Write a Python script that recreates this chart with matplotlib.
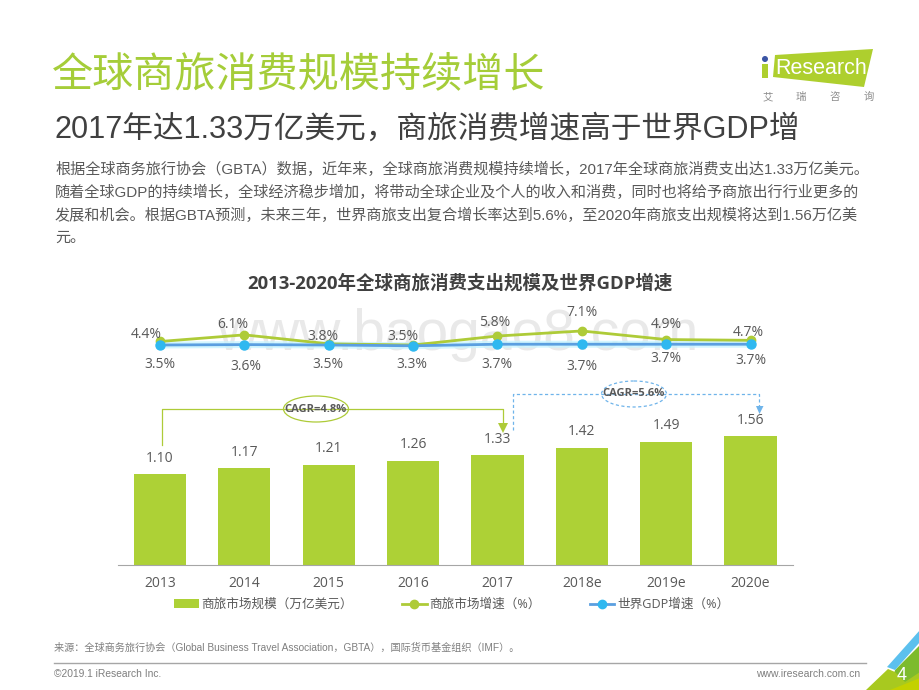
import matplotlib
matplotlib.use('Agg')
import matplotlib.pyplot as plt
from matplotlib.patches import Polygon, Ellipse
from matplotlib.lines import Line2D
from matplotlib.patches import Patch

CJK = 'Noto Sans CJK SC'
CHART_FONT = ['Open Sans', CJK]
ARIAL = ['Liberation Sans', CJK]

years = ['2013', '2014', '2015', '2016', '2017', '2018e', '2019e', '2020e']
market_size = [1.10, 1.17, 1.21, 1.26, 1.33, 1.42, 1.49, 1.56]
market_growth = [4.4, 6.1, 3.8, 3.5, 5.8, 7.1, 4.9, 4.7]
gdp_growth = [3.5, 3.6, 3.5, 3.3, 3.7, 3.7, 3.7, 3.7]
size_name = '商旅市场规模（万亿美元）'
growth_name = '商旅市场增速（%）'
gdp_name = '世界GDP增速（%）'

title = '全球商旅消费规模持续增长'
subtitle = '2017年达1.33万亿美元，商旅消费增速高于世界GDP增'
body = ['根据全球商务旅行协会（GBTA）数据，近年来，全球商旅消费规模持续增长，2017年全球商旅消费支出达1.33万亿美元。',
        '随着全球GDP的持续增长，全球经济稳步增加，将带动全球企业及个人的收入和消费，同时也将给予商旅出行行业更多的',
        '发展和机会。根据GBTA预测，未来三年，世界商旅支出复合增长率达到5.6%，至2020年商旅支出规模将达到1.56万亿美',
        '元。']
chart_title = '2013-2020年全球商旅消费支出规模及世界GDP增速'
source = '来源：全球商务旅行协会（Global Business Travel Association，GBTA），国际货币基金组织（IMF）。'

GREEN = '#add136'
LINE_GREEN = '#aecb38'
BLUE = '#5b9fe0'
DASH_BLUE = '#6fb4ea'
CYAN = '#2fb8f0'
GRAY = '#595959'
W, H = 920, 690

fig = plt.figure(figsize=(9.2, 6.9), dpi=100, facecolor='white')

def axes_px(l, t, r, b, **kw):
    return fig.add_axes([l / W, 1 - b / H, (r - l) / W, (b - t) / H], **kw)

# page layer in pixel coordinates
bg = axes_px(0, 0, W, H)
bg.set_xlim(0, W); bg.set_ylim(H, 0); bg.axis('off')

bg.text(52, 75, title, family=CJK, fontsize=29.6, color='#a5cd39', va='center')
bg.text(55, 130, subtitle, family=ARIAL, fontsize=22.1, color='#404040', va='center')
for y, line in zip([169, 192, 215, 238], body):
    bg.text(55, y, line, family=ARIAL, fontsize=10.9, color='#595959', va='center')
bg.text(460, 283, chart_title, family=CHART_FONT, fontsize=13.3, fontweight='bold', color='#404040', ha='center', va='center')
bg.text(458, 335, 'www.baogao8.com', family='Liberation Sans', fontsize=41, color='#e9e9e9', ha='center', va='center')

# logo
bg.add_patch(Polygon([(775, 55), (873, 49), (864, 87), (773, 77)], fc='#aecf2e', ec='none'))
bg.add_patch(Polygon([(762, 64), (768, 64), (768, 78), (762, 78)], fc='#aecf2e', ec='none'))
bg.add_patch(Ellipse((765, 59), 6, 6, fc='#3b55a5', ec='none'))
bg.text(775, 69, 'Research', family='Liberation Sans', fontsize=15.5, color='white', va='center')
for x, c in zip([768, 801, 835, 869], '艾瑞咨询'):
    bg.text(x, 97, c, family=CJK, fontsize=7.5, color='#8c8c8c', ha='center', va='center')

# footer
bg.plot([54, 866], [663, 663], color='#a6a6a6', lw=1)
bg.text(54, 648, source, family=ARIAL, fontsize=7.3, color='#7f7f7f', va='center')
bg.text(54, 674, '©2019.1 iResearch Inc.', family='Liberation Sans', fontsize=7.4, color='#7f7f7f', va='center')
bg.text(860, 674, 'www.iresearch.com.cn', family='Liberation Sans', fontsize=7.5, color='#7f7f7f', ha='right', va='center')
bg.add_patch(Polygon([(890, 690), (895, 670), (920, 645), (920, 690)], fc='#7dbb2c', ec='none'))
bg.add_patch(Polygon([(866, 690), (888, 669), (895, 672), (905, 682), (920, 672), (920, 690)], fc='#a8c91f', ec='none'))
bg.add_patch(Polygon([(890, 690), (920, 678), (920, 690)], fc='#c3d100', ec='none'))
bg.add_patch(Polygon([(887, 667), (920, 630), (920, 642), (895, 670)], fc='#5cc0ee', ec='none'))
bg.text(902, 675, '4', family='Liberation Sans', fontsize=13, color='white', ha='center', va='center')

# bars
ax = axes_px(117.8, 400, 792.7, 565)
ax.patch.set_alpha(0)
xs = range(len(years))
ax.bar(xs, market_size, width=0.62, color=GREEN, label=size_name)
ax.set_xlim(-0.5, 7.5)
ax.set_ylim(0, 165 / 82.7)
ax.set_xticks(list(xs), years, family=CHART_FONT, fontsize=10, color=GRAY)
ax.tick_params(axis='x', length=0, pad=8)
ax.set_yticks([])
for s in ['top', 'left', 'right']:
    ax.spines[s].set_visible(False)
ax.spines['bottom'].set_color('#a6a6a6')
for x, v in zip(xs, market_size):
    ax.annotate(f'{v:.2f}', (x, v), xytext=(0, 11.5), textcoords='offset points',
                family=CHART_FONT, fontsize=10, color=GRAY, ha='center', va='center')

# growth lines
lx = axes_px(117.8, 300, 792.7, 380)
lx.patch.set_alpha(0)
lx.axis('off')
lx.set_xlim(-0.5, 7.5)
lx.set_ylim(3.5 + (345 - 380) / 3.9, 3.5 + (345 - 300) / 3.9)
lx.plot(xs, gdp_growth, color='#c8f4ff', lw=5, alpha=0.8, solid_capstyle='round')
lx.plot(xs, market_growth, color=LINE_GREEN, lw=2, marker='o', ms=6, mfc=LINE_GREEN, mec=LINE_GREEN)
lx.plot(xs, gdp_growth, color=BLUE, lw=2, marker='o', ms=6.5, mfc=CYAN, mec=CYAN)

growth_label_px = [(146, 335), (233, 324), (323, 336), (403, 336), (495, 322), (582, 312), (666, 325), (748, 332)]
gdp_label_px = [(160, 364), (246, 367), (328, 364), (412, 364), (497, 364), (582, 367), (666, 358), (751, 360)]
top = axes_px(0, 0, W, H)
top.set_xlim(0, W); top.set_ylim(H, 0); top.axis('off'); top.patch.set_alpha(0)
for v, (px, py) in zip(market_growth, growth_label_px):
    top.text(px, py, f'{v}%', family=CHART_FONT, fontsize=10, color=GRAY, ha='center', va='center', zorder=5)
for v, (px, py) in zip(gdp_growth, gdp_label_px):
    top.text(px, py, f'{v}%', family=CHART_FONT, fontsize=10, color=GRAY, ha='center', va='center', zorder=5)

# CAGR brackets
top.plot([162, 162, 503, 503], [445, 408.5, 408.5, 424], color=LINE_GREEN, lw=0.9)
top.add_patch(Polygon([(498, 423), (508, 423), (503, 433)], fc=LINE_GREEN, ec='none'))
top.add_patch(Ellipse((316, 409), 65, 26, fc='white', ec=LINE_GREEN, lw=0.9))
top.text(316, 409, 'CAGR=4.8%', family=CHART_FONT, fontsize=8, fontweight='bold', color=GRAY, ha='center', va='center')
top.plot([513, 513, 759.5, 759.5], [430, 394, 394, 406], color=DASH_BLUE, lw=0.9, ls=(0, (2.5, 2)))
top.add_patch(Polygon([(756, 406), (763.5, 406), (759.5, 414)], fc=DASH_BLUE, ec='none'))
top.add_patch(Ellipse((634, 394), 65, 26, fc='white', ec=DASH_BLUE, lw=0.9, ls=(0, (2.5, 2))))
top.text(634, 394, 'CAGR=5.6%', family=CHART_FONT, fontsize=8, fontweight='bold', color=GRAY, ha='center', va='center')

# legend
handles = [Patch(fc=GREEN, ec='none', label=size_name),
           Line2D([], [], color=LINE_GREEN, lw=2, marker='o', ms=6, label=growth_name),
           Line2D([], [], color=BLUE, lw=2, marker='o', ms=6, mfc=CYAN, mec=CYAN, label=gdp_name)]
leg = top.legend(handles=handles, ncol=3, loc='center', bbox_to_anchor=(451.5 / W, 1 - 604.5 / H),
                 frameon=False, handlelength=1.95, handleheight=0.7, handletextpad=0.2,
                 columnspacing=3.9, prop={'family': CHART_FONT, 'size': 9.1})
for t in leg.get_texts():
    t.set_color(GRAY)

fig.savefig('out.png', dpi=100)
